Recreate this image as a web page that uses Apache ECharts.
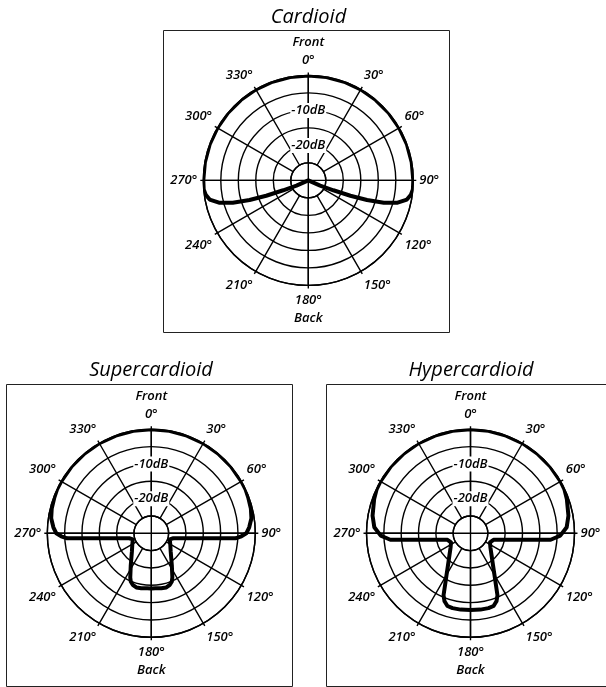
<!DOCTYPE html>
<html>
<head>
<meta charset="utf-8">
<script src="https://cdn.jsdelivr.net/npm/echarts@6/dist/echarts.min.js"></script>
<style>
  html, body { margin: 0; padding: 0; background: #fff; }
  #main { width: 606px; height: 687px; }
</style>
</head>
<body>
<div id="main"></div>
<script>
// pattern titles
var patternNames = ['Cardioid', 'Supercardioid', 'Hypercardioid'];

// tick labels
var angleTickLabels = ['0°', '30°', '60°', '90°', '120°', '150°', '180°', '210°', '240°', '270°', '300°', '330°'];
var frontLabel = 'Front';
var backLabel = 'Back';
var dbTickValues = [-10, -20];
var dbTickLabels = ['-10dB', '-20dB'];

// response: angle (deg, clockwise from front) / level (dB)
var cardioidAngles = [0, 10, 20, 30, 40, 50, 60, 70, 80, 90, 95, 98, 101, 104, 106.5, 108.5, 110, 111.5, 114,
  180,
  246, 248.5, 250, 251.5, 253.5, 256, 259, 262, 265, 270, 280, 290, 300, 310, 320, 330, 340, 350, 360];
var cardioidDb = [0, 0, 0, 0, 0, 0, 0, 0, 0, 0, 0, -0.4, -1.3, -3.7, -7.5, -12.3, -17.2, -22.3, -26.3,
  -30,
  -26.3, -22.3, -17.2, -12.3, -7.5, -3.7, -1.3, -0.4, 0, 0, 0, 0, 0, 0, 0, 0, 0, 0, 0];

var superAngles = [0, 10, 20, 30, 40, 50, 60, 65, 70, 76, 81.5, 86.5, 90, 91.9, 93.4, 94, 94.8, 96.3, 98.9, 102.8, 108,
  122.3, 132.7, 141.3, 147.4, 154.5, 156.9, 160.2, 164.5, 169.7, 175.8, 180,
  184.2, 190.3, 195.5, 199.8, 203.1, 205.5, 212.6, 218.7, 227.3, 237.7,
  252, 257.2, 261.1, 263.7, 265.2, 266, 266.6, 268.1, 270, 273.5, 278.5, 284, 290, 295, 300, 310, 320, 330, 340, 350, 360];
var superDb = [0, 0, 0, 0, 0, 0, 0, 0, -0.2, -0.4, -0.8, -1.7, -2.6, -4.0, -5.7, -9.2, -12.6, -16.9, -20.7, -23.5, -24.4,
  -23.5, -22.4, -20.8, -19.0, -15.9, -14.9, -14.2, -13.8, -13.9, -14.1, -14.1,
  -14.1, -13.9, -13.8, -14.2, -14.9, -15.9, -19.0, -20.8, -22.4, -23.5,
  -24.4, -23.5, -20.7, -16.9, -12.6, -9.2, -5.7, -4.0, -2.6, -1.7, -0.8, -0.4, -0.2, 0, 0, 0, 0, 0, 0, 0, 0];

var hyperAngles = [0, 10, 20, 30, 40, 50, 60, 65, 70.4, 79.8, 86.4, 91.5, 93, 94.6, 95.9, 98, 101.5, 105.8, 114.8,
  125, 136.3, 144.9, 150.3, 153.9, 156.5, 159.1, 162.4, 166.5, 172.6, 180,
  187.4, 193.5, 197.6, 200.9, 203.5, 206.1, 209.7, 215.1, 223.7, 235,
  245.2, 254.2, 258.5, 262, 264.1, 265.4, 267, 268.5, 273.6, 280.2, 289.6, 295, 300, 310, 320, 330, 340, 350, 360];
var hyperDb = [0, 0, 0, 0, 0, 0, 0, -0.1, -0.5, -1.3, -2.2, -4.1, -5.5, -6.8, -11.7, -16.6, -20.6, -23.1, -23.8,
  -23.0, -21.2, -18.7, -16.0, -13.3, -10.5, -9.0, -8.0, -7.8, -7.8, -7.9,
  -7.8, -7.8, -8.0, -9.0, -10.5, -13.3, -16.0, -18.7, -21.2, -23.0,
  -23.8, -23.1, -20.6, -16.6, -11.7, -6.8, -5.5, -4.1, -2.2, -1.3, -0.5, -0.1, 0, 0, 0, 0, 0, 0, 0];

// layout of the three panels
var panels = [
  { center: [308.3, 180.4], r: 105, title: [308.5, 17], frame: [163.5, 30.5, 286, 302] },
  { center: [151.3, 533.3], r: 104, title: [151, 370.5], frame: [6.5, 384.5, 286, 302] },
  { center: [470.5, 533.3], r: 104, title: [471, 370.5], frame: [326.5, 384.5, 286, 302] }
];
var patternAngles = [cardioidAngles, superAngles, hyperAngles];
var patternDb = [cardioidDb, superDb, hyperDb];

var font = '"Open Sans", "DejaVu Sans", sans-serif';
var gridLine = { color: '#000', width: 1.4 };

function angleLabel(v) {
  var txt = angleTickLabels[Math.round(v / 30) % 12];
  if (v === 0) return frontLabel + '\n' + txt;
  if (v === 180) return txt + '\n' + backLabel;
  return txt;
}
function dbLabel(v) {
  var k = dbTickValues.indexOf(v);
  return k < 0 ? '' : '{l|' + dbTickLabels[k] + '}';
}

var polar = [], angleAxis = [], radiusAxis = [], series = [], graphic = [];
panels.forEach(function (p, i) {
  // rings + spokes (spokes start at the inner ring)
  polar.push({ center: p.center, radius: [p.r / 6, p.r] });
  // full cross through the centre, carries the curve
  polar.push({ center: p.center, radius: [0, p.r] });

  angleAxis.push({
    polarIndex: 2 * i, type: 'value', min: 0, max: 360, interval: 30,
    startAngle: 90, clockwise: true,
    axisLine: { lineStyle: gridLine },
    axisTick: { show: true, length: 3, lineStyle: gridLine },
    axisLabel: {
      margin: 6, color: '#000', fontFamily: font, fontStyle: 'italic', fontWeight: 600,
      fontSize: 13, lineHeight: 18, formatter: angleLabel
    },
    splitLine: { show: true, lineStyle: gridLine }
  });
  radiusAxis.push({
    polarIndex: 2 * i, type: 'value', min: -25, max: 0, interval: 5,
    axisLine: { show: false }, axisTick: { show: false }, axisLabel: { show: false },
    splitLine: { show: true, lineStyle: gridLine }
  });

  angleAxis.push({
    polarIndex: 2 * i + 1, type: 'value', min: 0, max: 360, interval: 90,
    startAngle: 90, clockwise: true,
    axisLine: { show: false }, axisTick: { show: false }, axisLabel: { show: false },
    splitLine: { show: true, lineStyle: gridLine }
  });
  radiusAxis.push({
    polarIndex: 2 * i + 1, type: 'value', min: -30, max: 0, interval: 5, z: 3,
    axisLine: { show: false }, axisTick: { show: false }, splitLine: { show: false },
    axisLabel: {
      show: true, margin: 0, align: 'center', verticalAlign: 'middle',
      formatter: dbLabel,
      rich: {
        l: {
          color: '#000', fontFamily: font, fontStyle: 'italic', fontWeight: 600, fontSize: 13,
          backgroundColor: '#fff', padding: [1, 1]
        }
      }
    }
  });

  var pts = patternAngles[i].map(function (a, k) { return [patternDb[i][k], a]; });
  series.push({
    name: patternNames[i], type: 'line', coordinateSystem: 'polar', polarIndex: 2 * i + 1,
    data: pts, symbol: 'none', smooth: false, clip: false, z: 4,
    lineStyle: { color: '#000', width: 4, join: 'round' }
  });

  graphic.push({
    type: 'rect', silent: true,
    shape: { x: p.frame[0], y: p.frame[1], width: p.frame[2], height: p.frame[3] },
    style: { fill: 'none', stroke: '#222', lineWidth: 1 }
  });
  graphic.push({
    type: 'text', x: p.title[0], y: p.title[1], silent: true,
    style: {
      text: patternNames[i], fill: '#000', align: 'center', verticalAlign: 'middle',
      font: 'italic 500 20px ' + font
    }
  });
});

var chart = echarts.init(document.getElementById('main'));
chart.setOption({
  animation: false,
  backgroundColor: '#fff',
  polar: polar,
  angleAxis: angleAxis,
  radiusAxis: radiusAxis,
  series: series,
  graphic: graphic
});
</script>
</body>
</html>
